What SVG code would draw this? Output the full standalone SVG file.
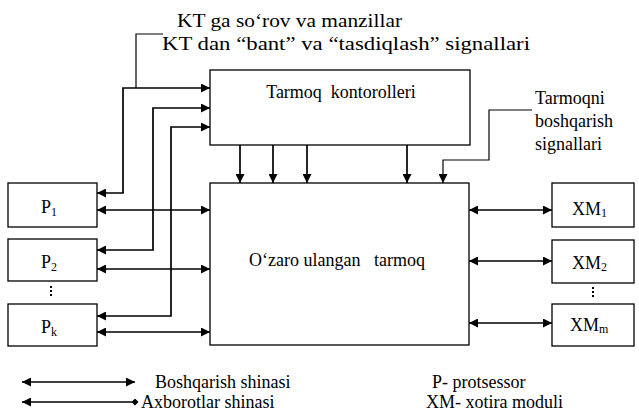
<svg xmlns="http://www.w3.org/2000/svg" width="639" height="416" viewBox="0 0 639 416">
<style>
.box{fill:#fff;stroke:#000;stroke-width:1.3}
.ln{fill:none;stroke:#000;stroke-width:1.7}
.thin{fill:none;stroke:#000;stroke-width:1.2}
.dots{fill:none;stroke:#000;stroke-width:2;stroke-dasharray:2 2}
.t{font-family:"Liberation Serif","Times New Roman",serif;font-size:18px;fill:#000}
.sub{font-size:12px}
</style>
<defs>
<marker id="ah" viewBox="0 0 10 10" refX="10" refY="5" markerWidth="11" markerHeight="9" markerUnits="userSpaceOnUse" orient="auto-start-reverse">
<path d="M0,0 L10,5 L0,10 Z" fill="#000"/>
</marker>
<marker id="dm" viewBox="0 0 10 10" refX="5" refY="5" markerWidth="7" markerHeight="7" markerUnits="userSpaceOnUse">
<path d="M5,0 L10,5 L5,10 L0,5 Z" fill="#000"/>
</marker>
</defs>

<g id="labels">
<text class="t" x="177" y="27" textLength="225" lengthAdjust="spacingAndGlyphs">KT ga so&#8216;rov va manzillar</text>
<text class="t" x="162" y="50" textLength="368" lengthAdjust="spacingAndGlyphs">KT dan &#8220;bant&#8221; va &#8220;tasdiqlash&#8221; signallari</text>
<text class="t" x="535" y="104">Tarmoqni</text>
<text class="t" x="535" y="127">boshqarish</text>
<text class="t" x="535" y="150">signallari</text>
</g>

<g id="controller">
<rect class="box" x="210" y="70" width="260" height="75"/>
<text class="t" x="341" y="98" text-anchor="middle" xml:space="preserve">Tarmoq  kontorolleri</text>
</g>

<g id="network">
<rect class="box" x="210" y="183" width="259" height="162"/>
<text class="t" x="337" y="266" text-anchor="middle" xml:space="preserve">O&#8216;zaro ulangan   tarmoq</text>
</g>

<g id="P1">
<rect class="box" x="8" y="183" width="89" height="44"/>
<text class="t" x="41" y="213">P<tspan class="sub" dy="3">1</tspan></text>
</g>
<g id="P2">
<rect class="box" x="8" y="239" width="89" height="42"/>
<text class="t" x="41" y="268">P<tspan class="sub" dy="3">2</tspan></text>
</g>
<g id="Pk">
<rect class="box" x="8" y="304" width="89" height="42"/>
<text class="t" x="41" y="333">P<tspan class="sub" dy="3">k</tspan></text>
</g>
<g id="XM1">
<rect class="box" x="552" y="183" width="82" height="44"/>
<text class="t" x="572" y="215">XM<tspan class="sub" dy="2">1</tspan></text>
</g>
<g id="XM2">
<rect class="box" x="552" y="240" width="82" height="43"/>
<text class="t" x="572" y="269">XM<tspan class="sub" dy="2">2</tspan></text>
</g>
<g id="XMm">
<rect class="box" x="552" y="304" width="82" height="42"/>
<text class="t" x="570" y="331">XM<tspan class="sub" dy="2">m</tspan></text>
</g>

<g id="connectors">
<path class="thin" d="M163,34 H136 V88"/>
<path class="thin" d="M532,110 H489 V160 H443 V183" marker-end="url(#ah)"/>
<path class="ln" d="M240,145 V183" marker-end="url(#ah)"/>
<path class="ln" d="M273,145 V183" marker-end="url(#ah)"/>
<path class="ln" d="M307,145 V183" marker-end="url(#ah)"/>
<path class="ln" d="M407,145 V183" marker-end="url(#ah)"/>
<path class="ln" d="M97,193 H123 V88 H210" marker-start="url(#ah)" marker-end="url(#ah)"/>
<path class="ln" d="M97,250 H153 V108 H210" marker-start="url(#ah)" marker-end="url(#ah)"/>
<path class="ln" d="M97,316 H171 V127 H210" marker-start="url(#ah)" marker-end="url(#ah)"/>
<path class="ln" d="M97,210 H210" marker-start="url(#ah)" marker-end="url(#ah)"/>
<path class="ln" d="M97,269 H210" marker-start="url(#ah)" marker-end="url(#ah)"/>
<path class="ln" d="M97,332 H210" marker-start="url(#ah)" marker-end="url(#ah)"/>
<path class="ln" d="M469,210 H552" marker-start="url(#ah)" marker-end="url(#ah)"/>
<path class="ln" d="M469,261 H552" marker-start="url(#ah)" marker-end="url(#ah)"/>
<path class="ln" d="M469,323 H552" marker-start="url(#ah)" marker-end="url(#ah)"/>
</g>

<g id="dots">
<path class="dots" d="M51,286 V298"/>
<path class="dots" d="M593,287 V299"/>
</g>

<g id="legend">
<path class="ln" d="M22,382 H135" marker-start="url(#ah)" marker-end="url(#ah)"/>
<text class="t" x="155" y="388">Boshqarish shinasi</text>
<path class="ln" d="M22,402 H135" marker-start="url(#ah)" marker-end="url(#dm)"/>
<text class="t" x="141" y="408">Axborotlar shinasi</text>
<text class="t" x="432" y="388">P- protsessor</text>
<text class="t" x="426" y="408">XM- xotira moduli</text>
</g>
</svg>
